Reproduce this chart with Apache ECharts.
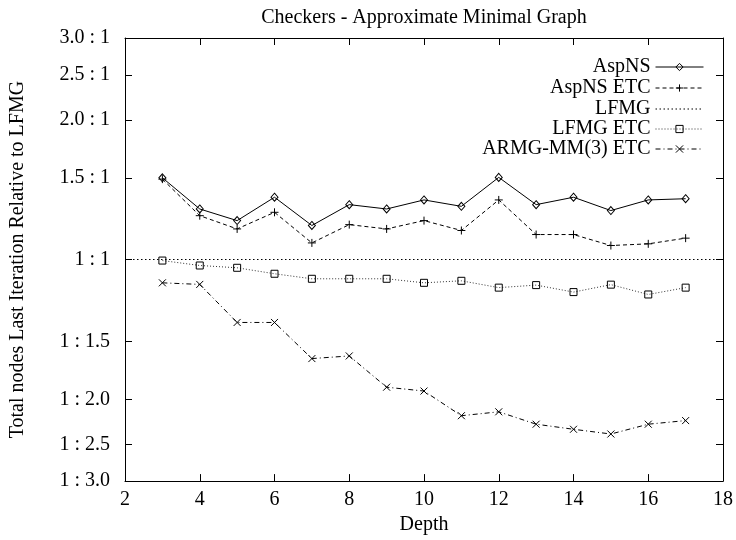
<!DOCTYPE html>
<html>
<head>
<meta charset="utf-8">
<script src="https://cdn.jsdelivr.net/npm/echarts@6/dist/echarts.min.js"></script>
<style>html,body{margin:0;padding:0;background:#fff}#c{width:736px;height:540px}</style>
</head>
<body>
<div id="c"></div>
<script>
// Depth values (x axis)
var depths = [3, 4, 5, 6, 7, 8, 9, 10, 11, 12, 13, 14, 15, 16, 17];
// Node ratios relative to LFMG (value > 1 means more nodes than LFMG)
var aspNS    = [1.500, 1.285, 1.213, 1.362, 1.184, 1.313, 1.285, 1.344, 1.302, 1.503, 1.313, 1.362, 1.275, 1.344, 1.352];
var aspNSETC = [1.490, 1.243, 1.164, 1.264, 1.086, 1.189, 1.164, 1.213, 1.155, 1.344, 1.132, 1.132, 1.072, 1.081, 1.112];
var lfmgRatio = 1;
var lfmgETC  = [0.995, 0.971, 0.960, 0.932, 0.909, 0.909, 0.909, 0.891, 0.900, 0.870, 0.881, 0.851, 0.883, 0.841, 0.870];
var armgETC  = [0.891, 0.884, 0.732, 0.732, 0.612, 0.620, 0.531, 0.521, 0.461, 0.470, 0.442, 0.431, 0.421, 0.442, 0.450];
// Y tick values (ratios) and x tick settings
var yTicks = [3, 2.5, 2, 1.5, 1, 1/1.5, 1/2, 1/2.5, 1/3];
var xMin = 2, xMax = 18, xStep = 2;
var seriesNames = ['AspNS', 'AspNS ETC', 'LFMG', 'LFMG ETC', 'ARMG-MM(3) ETC'];

function pairs(xs, ys) { return xs.map(function (x, i) { return [x, ys[i]]; }); }
function yLabel(v) {
  if (Math.abs(v - 1) < 1e-9) return '1 : 1';
  if (v > 1) return v.toFixed(1) + ' : 1';
  return '1 : ' + (1 / v).toFixed(1);
}

var FONT = 'Liberation Serif';
var chart = echarts.init(document.getElementById('c'), null, {renderer: 'canvas'});
var axisLine = {show: true, lineStyle: {color: '#000', width: 1}};
var tick = {show: true, inside: true, length: 7, lineStyle: {color: '#000', width: 1}};
var PLUS = 'path://M0,5L10,5M5,0L5,10';
var CROSS = 'path://M0,0L10,10M10,0L0,10';
var hollow = {color: 'rgba(0,0,0,0)', borderColor: '#000', borderWidth: 1};

function legendFor(name, top, markerWidth) {
  return {
    data: [name], right: 32, top: top, orient: 'vertical', align: 'right',
    padding: 0, itemWidth: 48, itemHeight: 9,
    itemStyle: {color: 'rgba(0,0,0,0)', borderColor: '#000', borderWidth: markerWidth},
    lineStyle: {width: 1},
    textStyle: {fontFamily: FONT, fontSize: 20, color: '#000', lineHeight: 20},
    selectedMode: false
  };
}

chart.setOption({
  animation: false,
  backgroundColor: '#fff',
  title: {
    text: 'Checkers - Approximate Minimal Graph',
    left: 424, top: 8, textAlign: 'center', padding: 0,
    textStyle: {fontFamily: FONT, fontSize: 20, fontWeight: 'normal', color: '#000'}
  },
  legend: [
    legendFor(seriesNames[0], 57, 1),
    legendFor(seriesNames[1], 78, 1),
    legendFor(seriesNames[2], 99, 0),
    legendFor(seriesNames[3], 119, 1),
    legendFor(seriesNames[4], 139, 1)
  ],
  grid: {left: 125, right: 13, top: 38, bottom: 57, containLabel: false},
  xAxis: [{
    type: 'value', min: xMin, max: xMax, interval: xStep,
    name: 'Depth', nameLocation: 'middle', nameGap: 30,
    nameTextStyle: {fontFamily: FONT, fontSize: 20, color: '#000'},
    axisLine: axisLine, axisTick: tick, splitLine: {show: false},
    axisLabel: {fontFamily: FONT, fontSize: 20, color: '#000', margin: 9}
  }, {
    type: 'value', min: xMin, max: xMax, interval: xStep, position: 'top',
    axisLine: axisLine, axisTick: tick, splitLine: {show: false},
    axisLabel: {show: false}
  }],
  yAxis: [{
    type: 'log', min: 1/3, max: 3,
    name: 'Total nodes Last Iteration Relative to LFMG', nameLocation: 'middle', nameGap: 97,
    nameTextStyle: {fontFamily: FONT, fontSize: 20, color: '#000'},
    axisLine: axisLine,
    axisTick: Object.assign({customValues: yTicks}, tick),
    splitLine: {show: false}, minorTick: {show: false},
    axisLabel: {customValues: yTicks, formatter: yLabel, fontFamily: FONT, fontSize: 20, color: '#000', margin: 15}
  }, {
    type: 'log', min: 1/3, max: 3, position: 'right',
    axisLine: axisLine,
    axisTick: Object.assign({customValues: yTicks}, tick),
    splitLine: {show: false},
    axisLabel: {show: false}
  }],
  series: [{
    name: seriesNames[0], type: 'line', data: pairs(depths, aspNS),
    symbol: 'diamond', symbolSize: [7, 8], itemStyle: hollow,
    lineStyle: {color: '#000', width: 1, type: 'solid'}
  }, {
    name: seriesNames[1], type: 'line', data: pairs(depths, aspNSETC),
    symbol: PLUS, symbolSize: 8, itemStyle: hollow,
    lineStyle: {color: '#000', width: 1, type: [4, 3]}
  }, {
    name: seriesNames[2], type: 'line', data: [],
    symbol: 'none', itemStyle: {color: 'rgba(0,0,0,0)', borderWidth: 0},
    lineStyle: {color: '#000', width: 1, type: [1.5, 2.5]},
    markLine: {
      silent: true, symbol: ['none', 'none'], label: {show: false},
      lineStyle: {color: '#000', width: 1, type: [1.5, 2.5]},
      data: [{yAxis: lfmgRatio}]
    }
  }, {
    name: seriesNames[3], type: 'line', data: pairs(depths, lfmgETC),
    symbol: 'rect', symbolSize: 7, itemStyle: hollow,
    lineStyle: {color: '#333', width: 1, type: [1, 2]}
  }, {
    name: seriesNames[4], type: 'line', data: pairs(depths, armgETC),
    symbol: CROSS, symbolSize: 7, itemStyle: hollow,
    lineStyle: {color: '#000', width: 1, type: [5, 3, 1, 3]}
  }]
});
</script>
</body>
</html>
